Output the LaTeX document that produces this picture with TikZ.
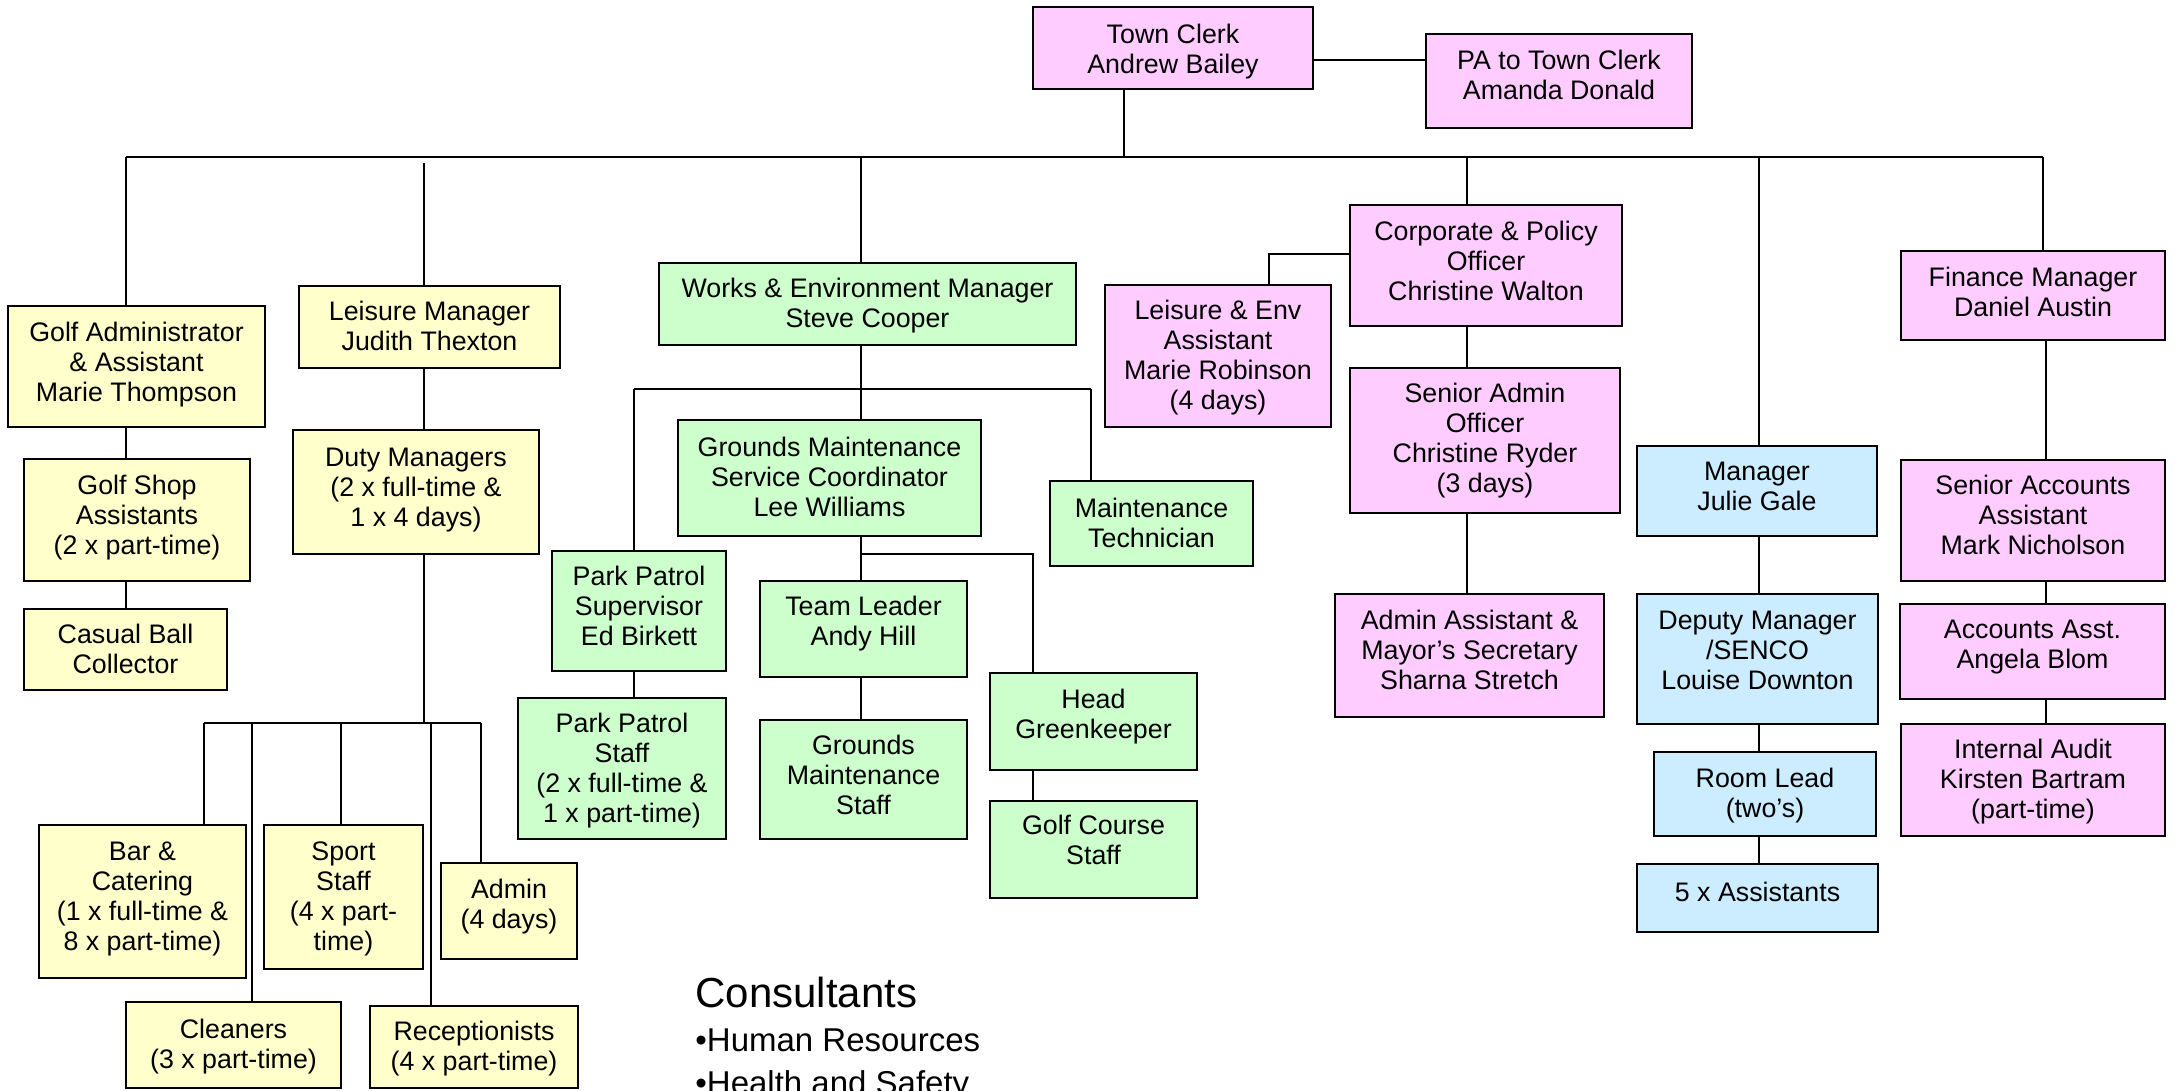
\documentclass[tikz,border=0pt]{standalone}
\usepackage{fontspec}
\setmainfont{Liberation Sans}
\definecolor{cyel}{RGB}{255,255,204}
\definecolor{cgrn}{RGB}{204,255,204}
\definecolor{cpnk}{RGB}{255,204,255}
\definecolor{cblu}{RGB}{204,236,255}
\tikzset{
  orgbox/.style={draw=black, line width=1.1pt, rectangle, inner sep=0pt},
  yel/.style={orgbox, fill=cyel},
  grn/.style={orgbox, fill=cgrn},
  pnk/.style={orgbox, fill=cpnk},
  blu/.style={orgbox, fill=cblu},
  orgtxt/.style={align=center, inner sep=0pt, font=\fontsize{13.4pt}{15pt}\selectfont,
    execute at begin node=\strut, execute at end node=\strut},
  link/.style={line width=0.85pt, draw=black},
}
\newcommand\obox[8]{%
  \node[#6, minimum width={(#4-#2)*0.5pt}, minimum height={(#5-#3)*0.5pt}] (#1) at ({(#2+#4)/2},{(#3+#5)/2}) {};
  \node[orgtxt] (#1-t) at ([yshift={#7-1.8pt}]#1.center) {#8};
}
\begin{document}
\begin{tikzpicture}[x=0.5pt, y=-0.5pt]
\clip (0,0) rectangle (2176,1091);
\fill[white] (0,0) rectangle (2176,1091);
% ---- boxes: pink top
\obox{tc}{1033}{7}{1313}{89}{pnk}{-1pt}{Town Clerk\\Andrew Bailey}
\obox{pa}{1426}{34}{1692}{128}{pnk}{2.5pt}{PA to Town Clerk\\Amanda Donald}
% ---- yellow
\obox{ga}{8}{306}{265}{427}{yel}{2pt}{Golf Administrator\\\& Assistant\\Marie Thompson}
\obox{lm}{299}{286}{560}{368}{yel}{0pt}{Leisure Manager\\Judith Thexton}
\obox{gs}{24}{459}{250}{581}{yel}{2pt}{Golf Shop\\Assistants\\(2 x part-time)}
\obox{cb}{24}{609}{227}{690}{yel}{0pt}{Casual Ball\\Collector}
\obox{dmg}{293}{430}{539}{554}{yel}{2pt}{Duty Managers\\(2 x full-time \&\\1 x 4 days)}
\obox{bc}{39}{825}{246}{978}{yel}{2pt}{Bar \&\\Catering\\(1 x full-time \&\\8 x part-time)}
\obox{ss}{264}{825}{423}{969}{yel}{0pt}{Sport\\Staff\\(4 x part-\\time)}
\obox{ad}{441}{863}{577}{959}{yel}{3pt}{Admin\\(4 days)}
\obox{cl}{126}{1002}{341}{1088}{yel}{0pt}{Cleaners\\(3 x part-time)}
\obox{rc}{370}{1006}{578}{1088}{yel}{0pt}{Receptionists\\(4 x part-time)}
% ---- green
\obox{wm}{659}{263}{1076}{345}{grn}{0pt}{Works \& Environment Manager\\Steve Cooper}
\obox{gm}{678}{420}{981}{536}{grn}{0pt}{Grounds Maintenance\\Service Coordinator\\Lee Williams}
\obox{mt}{1050}{481}{1253}{566}{grn}{0pt}{Maintenance\\Technician}
\obox{pps}{552}{551}{726}{671}{grn}{2.3pt}{Park Patrol\\Supervisor\\Ed Birkett}
\obox{ppst}{518}{698}{726}{839}{grn}{0pt}{Park Patrol\\Staff\\(2 x full-time \&\\1 x part-time)}
\obox{tl}{760}{581}{967}{677}{grn}{3.5pt}{Team Leader\\Andy Hill}
\obox{gms}{760}{720}{967}{839}{grn}{2pt}{Grounds\\Maintenance\\Staff}
\obox{hg}{990}{673}{1197}{770}{grn}{3.5pt}{Head\\Greenkeeper}
\obox{gcs}{990}{801}{1197}{898}{grn}{4.3pt}{Golf Course\\Staff}
% ---- pink
\obox{corp}{1350}{205}{1622}{326}{pnk}{2pt}{Corporate \& Policy\\Officer\\Christine Walton}
\obox{lea}{1105}{285}{1331}{427}{pnk}{0pt}{Leisure \& Env\\Assistant\\Marie Robinson\\(4 days)}
\obox{sao}{1350}{368}{1620}{513}{pnk}{1pt}{Senior Admin\\Officer\\Christine Ryder\\(3 days)}
\obox{aam}{1335}{594}{1604}{717}{pnk}{2.3pt}{Admin Assistant \&\\Mayor’s Secretary\\Sharna Stretch}
\obox{fin}{1901}{251}{2165}{340}{pnk}{1.5pt}{Finance Manager\\Daniel Austin}
\obox{saa}{1901}{460}{2165}{581}{pnk}{2.5pt}{Senior Accounts\\Assistant\\Mark Nicholson}
\obox{aa}{1900}{604}{2165}{699}{pnk}{3.4pt}{Accounts Asst.\\Angela Blom}
\obox{ia}{1901}{724}{2165}{836}{pnk}{0pt}{Internal Audit\\Kirsten Bartram\\(part-time)}
% ---- blue
\obox{jg}{1637}{446}{1877}{536}{blu}{2pt}{Manager\\Julie Gale}
\obox{dm}{1637}{594}{1878}{724}{blu}{3.9pt}{Deputy Manager\\/SENCO\\Louise Downton}
\obox{rl}{1654}{752}{1876}{836}{blu}{0pt}{Room Lead\\(two’s)}
\obox{fa}{1637}{864}{1878}{932}{blu}{3.2pt}{5 x Assistants}
% ---- consultants
\node[anchor=base west, inner sep=0pt, font=\fontsize{21pt}{25pt}\selectfont] (cons) at (695,1007) {Consultants};
\node[anchor=base west, inner sep=0pt, font=\fontsize{16.5pt}{20pt}\selectfont] (cons1) at (695,1051) {•Human Resources};
\node[anchor=base west, inner sep=0pt, font=\fontsize{16.5pt}{20pt}\selectfont] (cons2) at (695,1094) {•Health and Safety};
% ---- junction coordinates
\coordinate (busL) at (126,157);
\coordinate (busR) at (2043,157);
\coordinate (jtc) at (1124,157);
\coordinate (jlm) at (424,163);
\coordinate (jwm) at (861,157);
\coordinate (jcp) at (1467,157);
\coordinate (jjg) at (1759,157);
\coordinate (ktp) at (1370,60);
\coordinate (dbC) at (424,723);
\coordinate (dbL) at (204,723);
\coordinate (db2) at (252,723);
\coordinate (db3) at (341,723);
\coordinate (db4) at (431,723);
\coordinate (dbR) at (481,723);
\coordinate (wbL) at (634,389);
\coordinate (wbR) at (1091,389);
\coordinate (gbR) at (1033,554);
\coordinate (kle) at (1269,254);
\coordinate (jfn) at (2046,340);
% ---- connectors
\draw[link] (tc.east |- ktp) -- (pa.west |- ktp);
\draw[link] (busL) -- (busR);
\draw[link] (jtc |- tc.south) -- (jtc);
\draw[link] (busL) -- (busL |- ga.north);
\draw[link] (jlm) -- (jlm |- lm.north);
\draw[link] (jwm) -- (jwm |- wm.north);
\draw[link] (jcp) -- (jcp |- corp.north);
\draw[link] (jjg) -- (jjg |- jg.north);
\draw[link] (busR) -- (busR |- fin.north);
% golf / leisure
\draw[link] (busL |- ga.south) -- (busL |- gs.north);
\draw[link] (busL |- gs.south) -- (busL |- cb.north);
\draw[link] (jlm |- lm.south) -- (jlm |- dmg.north);
\draw[link] (jlm |- dmg.south) -- (dbC);
\draw[link] (dbL) -- (dbR);
\draw[link] (dbL) -- (dbL |- bc.north);
\draw[link] (db2) -- (db2 |- cl.north);
\draw[link] (db3) -- (db3 |- ss.north);
\draw[link] (db4) -- (db4 |- rc.north);
\draw[link] (dbR) -- (dbR |- ad.north);
% works
\draw[link] (jwm |- wm.south) -- (jwm |- gm.north);
\draw[link] (wbL) -- (wbR);
\draw[link] (wbL) -- (wbL |- pps.north);
\draw[link] (wbR) -- (wbR |- mt.north);
\draw[link] (wbL |- pps.south) -- (wbL |- ppst.north);
\draw[link] (jwm |- gm.south) -- (jwm |- tl.north);
\draw[link] (jwm |- gbR) -- (gbR) -- (gbR |- hg.north);
\draw[link] (jwm |- tl.south) -- (jwm |- gms.north);
\draw[link] (gbR |- hg.south) -- (gbR |- gcs.north);
% corporate
\draw[link] (corp.west |- kle) -- (kle) -- (kle |- lea.north);
\draw[link] (jcp |- corp.south) -- (jcp |- sao.north);
\draw[link] (jcp |- sao.south) -- (jcp |- aam.north);
% nursery
\draw[link] (jjg |- jg.south) -- (jjg |- dm.north);
\draw[link] (jjg |- dm.south) -- (jjg |- rl.north);
\draw[link] (jjg |- rl.south) -- (jjg |- fa.north);
% finance
\draw[link] (jfn |- fin.south) -- (jfn |- saa.north);
\draw[link] (jfn |- saa.south) -- (jfn |- aa.north);
\draw[link] (jfn |- aa.south) -- (jfn |- ia.north);
\end{tikzpicture}
\end{document}
